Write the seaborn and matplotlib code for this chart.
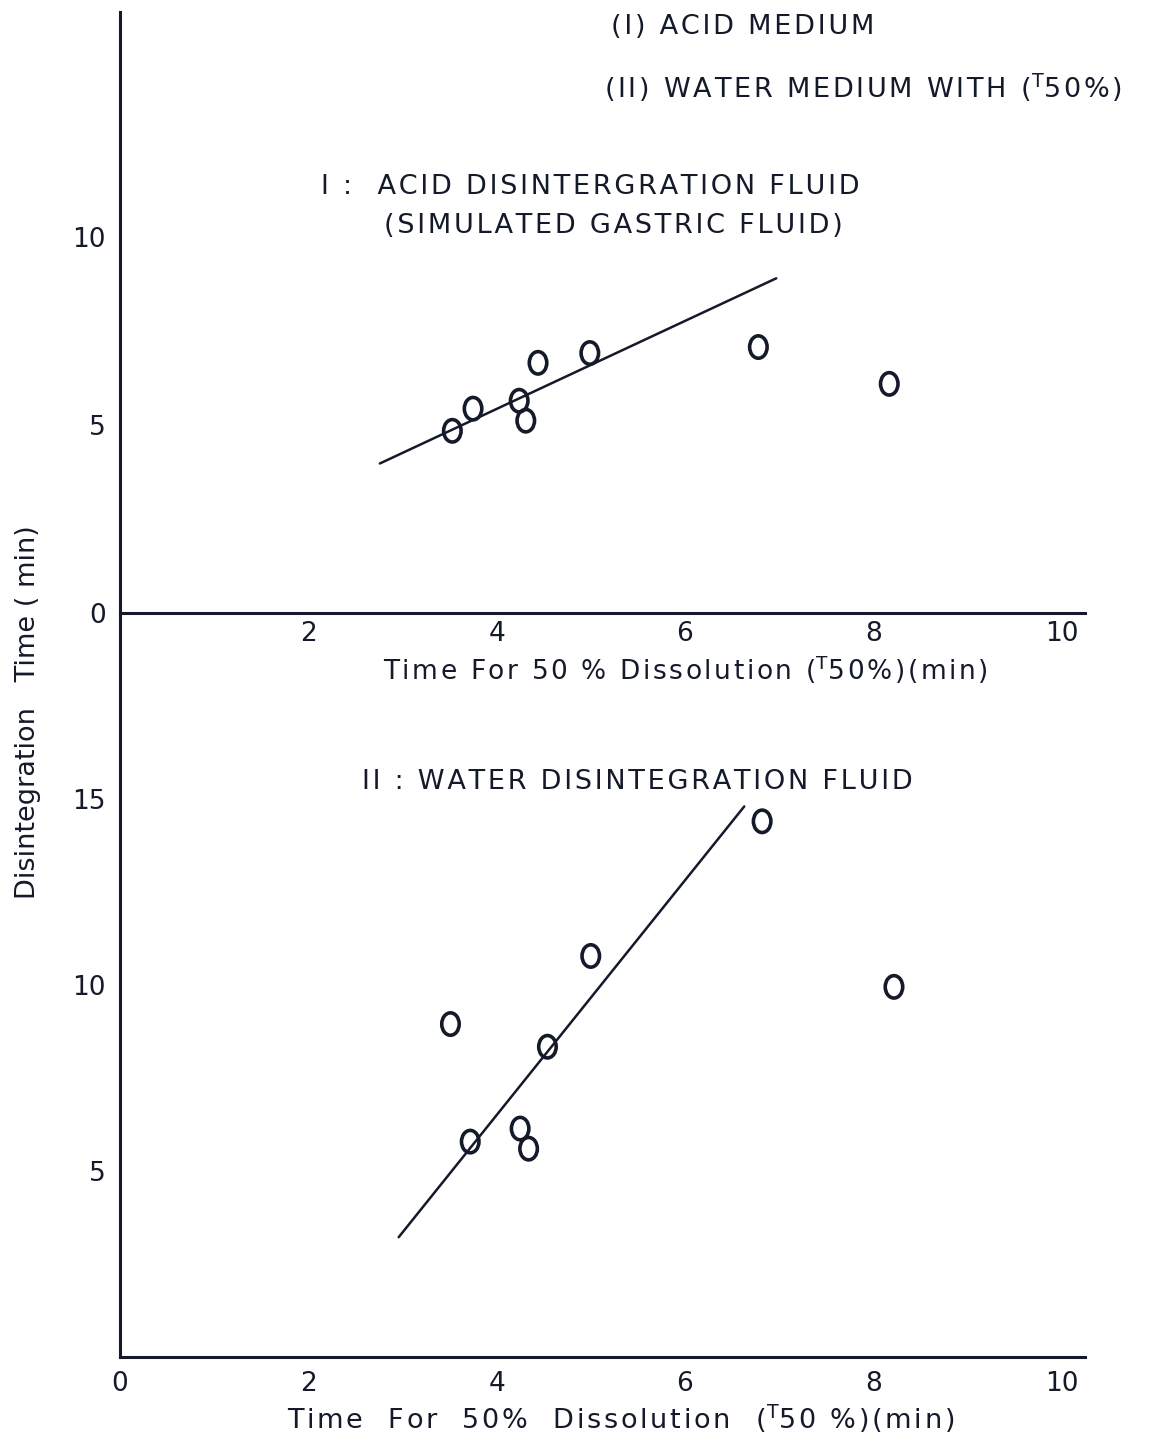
import numpy as np
import pandas as pd
import seaborn as sns
import matplotlib.pyplot as plt
from matplotlib.path import Path
from matplotlib.transforms import Affine2D

sns.set_theme(style="white")
plt.rcParams['font.family'] = ['DejaVu Sans']

# I: acid disintegration fluid (simulated gastric fluid)
acid_t50 = [3.53, 3.75, 4.24, 4.31, 4.44, 4.99, 6.78, 8.17]
acid_dt = [4.85, 5.44, 5.65, 5.12, 6.66, 6.92, 7.08, 6.10]
acid_fit_x = [2.76, 6.97]
acid_fit_y = [3.98, 8.91]

# II: water disintegration fluid
water_t50 = [3.51, 3.72, 4.54, 4.25, 4.34, 5.00, 6.82, 8.22]
water_dt = [8.95, 5.79, 8.34, 6.14, 5.60, 10.78, 14.40, 9.95]
water_fit_x = [2.96, 6.63]
water_fit_y = [3.22, 14.80]

x_ticks_top = [2, 4, 6, 8, 10]
x_ticks_bottom = [0, 2, 4, 6, 8, 10]
y_ticks_top = [0, 5, 10]
y_ticks_bottom = [5, 10, 15]

ink = "#141a2a"
oval = Path.unit_circle().transformed(Affine2D().scale(0.78, 1.0))
T_SUP = "$^{\\mathrm{T}}$"


def spaced(text, gap="\u200a"):
    """Letter-space plain text with hair spaces."""
    return gap.join(text)


fig = plt.figure(figsize=(11.49, 14.41), dpi=100)
ax1 = fig.add_axes([0.1044, 0.5746, 0.840, 0.4171])
ax2 = fig.add_axes([0.1044, 0.0583, 0.840, 0.5163])

acid = pd.DataFrame({"t50": acid_t50, "dt": acid_dt})
water = pd.DataFrame({"t50": water_t50, "dt": water_dt})

for ax, df, fx, fy, ymax in [
    (ax1, acid, acid_fit_x, acid_fit_y, 16),
    (ax2, water, water_fit_x, water_fit_y, 20),
]:
    sns.lineplot(x=fx, y=fy, ax=ax, color=ink, lw=1.8, estimator=None)
    sns.scatterplot(data=df, x="t50", y="dt", ax=ax, marker=oval, s=260,
                    facecolor="none", edgecolor=ink, linewidth=2.6)
    ax.set_xlim(0, 10.25)
    ax.set_ylim(0, ymax)
    ax.set_xlabel("")
    ax.set_ylabel("")
    for s in ["top", "right"]:
        ax.spines[s].set_visible(False)
    ax.spines["left"].set_color(ink)
    ax.spines["bottom"].set_color(ink)
    ax.spines["left"].set_linewidth(2.2)
    ax.spines["bottom"].set_linewidth(2.2)
    ax.patch.set_alpha(0)
    ax.tick_params(axis="both", direction="in", length=12, width=1.6,
                   color=ink, labelcolor=ink, labelsize=19, pad=10)

ax1.set_xticks(x_ticks_top)
ax1.set_yticks(y_ticks_top)
ax2.set_xticks(x_ticks_bottom)
ax2.set_yticks(y_ticks_bottom)
ax1.tick_params(axis="x", pad=6)

ax1.text(6.0, -1.5,
         spaced("Time For 50 % Dissolution (") + T_SUP + spaced("50%)(min)"),
         ha="center", va="center", fontsize=19, color=ink)
ax2.text(5.32, -1.65,
         spaced("Time  For  50%  Dissolution  (") + T_SUP + spaced("50 %)(min)"),
         ha="center", va="center", fontsize=19.5, color=ink)

ax1.text(2.13, 11.35, spaced("I :  ACID DISINTERGRATION FLUID"),
         ha="left", va="center", fontsize=19.5, color=ink)
ax1.text(2.8, 10.3, spaced("(SIMULATED GASTRIC FLUID)"),
         ha="left", va="center", fontsize=19.5, color=ink)
ax2.text(2.57, 15.45, spaced("II : WATER DISINTEGRATION FLUID"),
         ha="left", va="center", fontsize=19.5, color=ink)

fig.text(0.532, 0.981, spaced("(I) ACID MEDIUM"), ha="left", va="center",
         fontsize=19.5, color=ink)
fig.text(0.526, 0.939, spaced("(II) WATER MEDIUM WITH (") + T_SUP + spaced("50%)"),
         ha="left", va="center", fontsize=19.5, color=ink)

fig.text(0.024, 0.506, "Disintegration   Time ( min)", rotation=90,
         ha="center", va="center", fontsize=19.5, color=ink)

fig.savefig("out.png", dpi=100, facecolor="white")
